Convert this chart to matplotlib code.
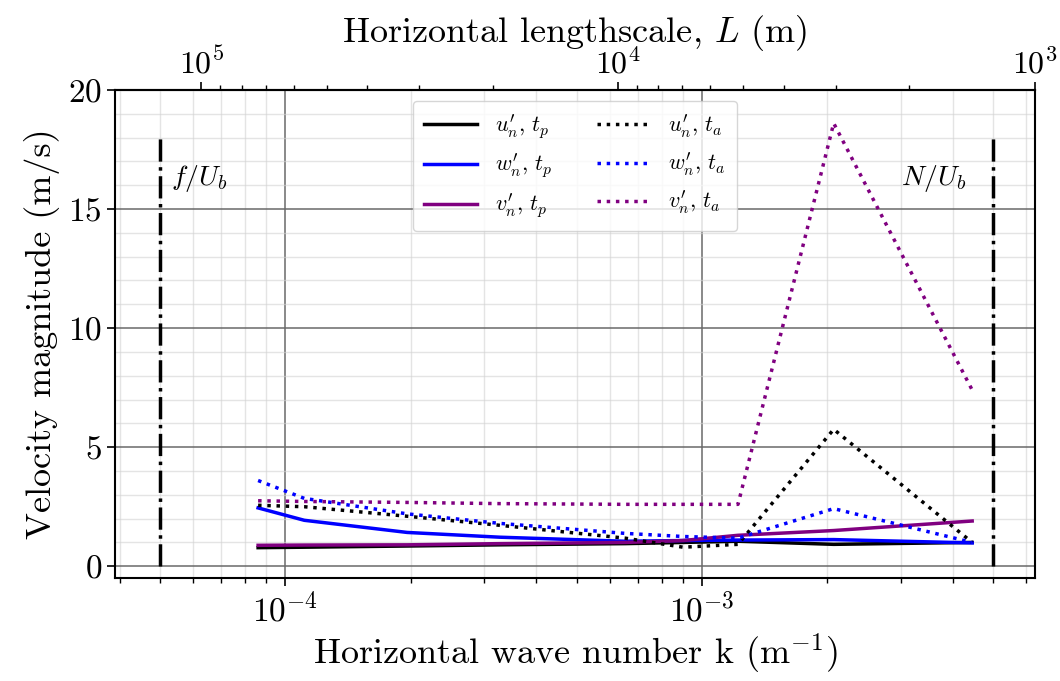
import numpy as np
import matplotlib
matplotlib.use("Agg")
import matplotlib.pyplot as plt
from matplotlib.ticker import MultipleLocator, LogLocator, NullFormatter

plt.rcParams["font.family"] = "serif"
plt.rcParams["font.serif"] = ["cmr10"]
plt.rcParams["mathtext.fontset"] = "cm"
plt.rcParams["axes.formatter.use_mathtext"] = True

# wave numbers (1/m)
k = [8.6e-5, 1.11e-4, 1.96e-4, 3.27e-4, 6.54e-4, 9.0e-4, 1.22e-3, 2.07e-3, 4.45e-3]

# velocity magnitudes (m/s), t_p
u_tp = [0.78, 0.80, 0.85, 0.90, 0.95, 1.00, 1.05, 0.92, 1.00]
w_tp = [2.45, 1.93, 1.42, 1.22, 1.05, 1.08, 1.10, 1.12, 0.98]
v_tp = [0.88, 0.89, 0.90, 0.95, 1.00, 1.08, 1.30, 1.50, 1.90]
# t_a
u_ta = [2.56, 2.50, 2.10, 1.72, 1.18, 0.80, 0.92, 5.75, 1.00]
w_ta = [3.60, 2.85, 2.20, 1.80, 1.38, 1.25, 1.18, 2.42, 1.00]
v_ta = [2.75, 2.72, 2.68, 2.63, 2.60, 2.60, 2.60, 18.6, 7.40]

f_Ub = 5e-5
N_Ub = 5e-3

fig = plt.figure(figsize=(10.6, 6.81), dpi=100)
ax = fig.add_axes([0.1085, 0.151, 0.868, 0.717])

lw = 2.5
ax.plot(k, u_tp, color="black", lw=lw, label=r"$u_n^{\prime},\, t_p$")
ax.plot(k, w_tp, color="blue", lw=lw, label=r"$w_n^{\prime},\, t_p$")
ax.plot(k, v_tp, color="purple", lw=lw, label=r"$v_n^{\prime},\, t_p$")
ax.plot(k, u_ta, color="black", lw=lw, ls=":", label=r"$u_n^{\prime},\, t_a$")
ax.plot(k, w_ta, color="blue", lw=lw, ls=":", label=r"$w_n^{\prime},\, t_a$")
ax.plot(k, v_ta, color="purple", lw=lw, ls=":", label=r"$v_n^{\prime},\, t_a$")

ax.vlines([f_Ub, N_Ub], 0, 18, colors="black", linestyles="-.", lw=2.5)
ax.text(5.3e-5, 16.3, r"$f/U_b$", fontsize=20, ha="left", va="center")
ax.text(4.3e-3, 16.3, r"$N/U_b$", fontsize=20, ha="right", va="center")

ax.set_xscale("log")
ax.set_xlim(3.9e-5, 6.3e-3)
ax.set_ylim(-0.5, 20)
ax.yaxis.set_major_locator(MultipleLocator(5))
ax.yaxis.set_minor_locator(MultipleLocator(1))
ax.tick_params(axis="y", which="minor", length=0)
ax.tick_params(which="major", labelsize=24, length=6, width=1.2)
ax.tick_params(axis="x", which="minor", length=3.5, width=1)

ax.grid(which="major", color="dimgray", lw=1.1)
ax.grid(which="minor", color="lightgray", lw=1, alpha=0.6)
ax.set_axisbelow(True)
for s in ax.spines.values():
    s.set_linewidth(1.5)

ax.set_xlabel(r"Horizontal wave number k (m$^{-1}$)", fontsize=26)
ax.set_ylabel("Velocity magnitude (m/s)", fontsize=26, labelpad=6)

top = ax.secondary_xaxis("top", functions=(lambda x: 2 * np.pi / x, lambda L: 2 * np.pi / L))
top.xaxis.set_major_locator(LogLocator(base=10))
top.xaxis.set_minor_locator(LogLocator(base=10, subs=np.arange(2, 10)))
top.xaxis.set_minor_formatter(NullFormatter())
top.tick_params(which="major", labelsize=23, length=6, width=1.2, pad=1.5)
top.tick_params(which="minor", length=3.5, width=1)
top.spines["top"].set_linewidth(1.5)
top.set_xlabel(r"Horizontal lengthscale, $L$ (m)", fontsize=26, labelpad=4)

ax.legend(loc="upper center", ncol=2, fontsize=16, framealpha=0.8,
          handlelength=2.4, columnspacing=2.0, borderpad=0.5)

fig.savefig("out.png", dpi=100)
